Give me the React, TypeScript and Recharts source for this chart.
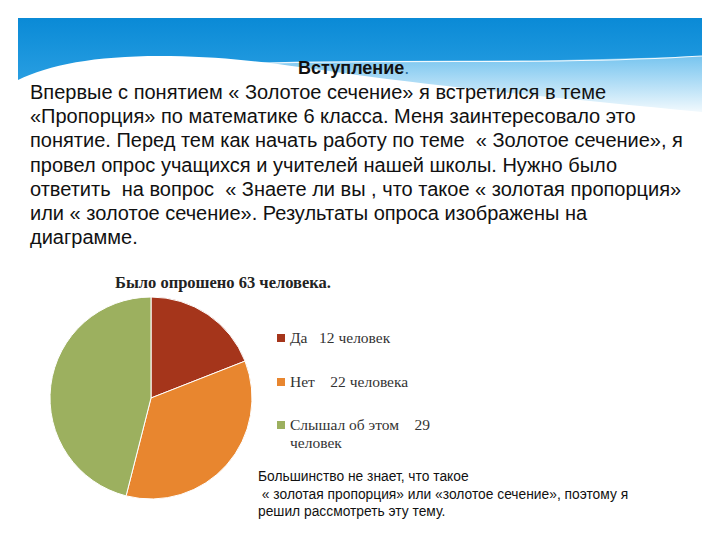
import React from 'react';
import { PieChart, Pie, Cell, Legend } from 'recharts';

// survey: "Знаете ли вы, что такое золотое сечение?"
const answers = ['Да', 'Нет', 'Слышал об этом'];
const counts = [12, 22, 29];
const units = ['человек', 'человека', 'человек'];
const gaps = ['   ', '    ', '    '];
const colors = ['#A5351B', '#E8862F', '#9CB05F'];

const introLines = [
  'Впервые с понятием « Золотое сечение» я встретился в теме',
  '«Пропорция» по математике 6 класса. Меня заинтересовало это',
  'понятие. Перед тем как начать работу по теме  « Золотое сечение», я',
  'провел опрос учащихся и учителей нашей школы. Нужно было',
  'ответить  на вопрос  « Знаете ли вы , что такое « золотая пропорция»',
  'или « золотое сечение». Результаты опроса изображены на',
  'диаграмме.',
];

const data = answers.map((name, i) => ({ name, value: counts[i] }));

const sans = "'Liberation Sans', Arial, sans-serif";
const serif = "'Liberation Serif', 'DejaVu Serif', serif";

function SurveyLegend(props: any) {
  const payload = props.payload || [];
  return (
    <div style={{ fontFamily: serif, fontSize: 15.5, color: '#333' }}>
      {payload.map((entry: any, i: number) => (
        <div
          key={i}
          style={{ display: 'flex', alignItems: 'flex-start', height: 43.5 }}
        >
          <span
            style={{
              display: 'inline-block',
              width: 8,
              height: 8,
              background: colors[i],
              marginTop: 5,
              marginRight: 5,
              flexShrink: 0,
            }}
          />
          <span style={{ whiteSpace: 'pre-wrap', width: 150, lineHeight: '17.5px' }}>
            {`${entry.value}${gaps[i]}${counts[i]} ${units[i]}`}
          </span>
        </div>
      ))}
    </div>
  );
}

function Header() {
  return (
    <svg
      width={720}
      height={140}
      style={{ position: 'absolute', left: 0, top: 0 }}
    >
      <defs>
        <linearGradient id="sky" x1="0" y1="0" x2="0" y2="1">
          <stop offset="0%" stopColor="#0A8AD6" />
          <stop offset="100%" stopColor="#3AAAE8" />
        </linearGradient>
        <linearGradient id="fade" x1="0" y1="0" x2="0" y2="1">
          <stop offset="0%" stopColor="#7CC7F0" stopOpacity={0.95} />
          <stop offset="100%" stopColor="#ffffff" stopOpacity={1} />
        </linearGradient>
      </defs>
      <rect x={18} y={18} width={684} height={100} fill="url(#sky)" />
      <path
        d="M180,66 C300,60 450,62 560,60 C620,59 670,57 702,56 L702,118 L180,118 Z"
        fill="url(#fade)"
      />
      <path
        d="M230,64 C350,60 470,62 560,61 C620,60 670,58 702,56"
        stroke="#ffffff"
        strokeWidth={1.2}
        fill="none"
        opacity={0.9}
      />
      <path
        d="M18,80 C50,64 100,55 170,56 C240,57 290,66 350,74 C450,88 580,100 702,112 L702,140 L18,140 Z"
        fill="#ffffff"
      />
    </svg>
  );
}

export default function App() {
  return (
    <div
      style={{
        position: 'absolute',
        left: 0,
        top: 0,
        width: 720,
        height: 540,
        overflow: 'hidden',
        background: '#fff',
      }}
    >
      <Header />
      <div
        style={{
          position: 'absolute',
          left: 298,
          top: 58,
          fontFamily: sans,
          fontWeight: 'bold',
          fontSize: 18,
          color: '#111',
        }}
      >
        Вступление<span style={{ fontWeight: 'normal', color: '#2a6f9e' }}>.</span>
      </div>
      <div
        style={{
          position: 'absolute',
          left: 30,
          top: 80,
          fontFamily: sans,
          fontSize: 20,
          lineHeight: '24.2px',
          color: '#111',
          whiteSpace: 'pre',
        }}
      >
        {introLines.map((l, i) => (
          <div key={i}>{l}</div>
        ))}
      </div>

      <div
        style={{
          position: 'absolute',
          left: 115,
          top: 273,
          fontFamily: serif,
          fontWeight: 'bold',
          fontSize: 16.5,
          color: '#222',
        }}
      >
        Было опрошено 63 человека.
      </div>

      <div style={{ position: 'absolute', left: 0, top: 0 }}>
        <PieChart width={720} height={540}>
          <Pie
            data={data}
            dataKey="value"
            nameKey="name"
            cx={146}
            cy={393}
            outerRadius={101}
            startAngle={90}
            endAngle={-270}
            stroke="#ffffff"
            strokeWidth={1}
            legendType="square"
            isAnimationActive={false}
          >
            {data.map((d, i) => (
              <Cell key={d.name} fill={colors[i]} />
            ))}
          </Pie>
          <Legend
            layout="vertical"
            content={SurveyLegend}
            wrapperStyle={{ position: 'absolute', left: 277, top: 329, width: 180 }}
          />
        </PieChart>
      </div>

      <div
        style={{
          position: 'absolute',
          left: 258,
          top: 468,
          fontFamily: sans,
          fontSize: 13.8,
          lineHeight: '17.5px',
          color: '#111',
          whiteSpace: 'pre',
        }}
      >
        <div>Большинство не знает, что такое</div>
        <div> « золотая пропорция» или «золотое сечение», поэтому я</div>
        <div>решил рассмотреть эту тему.</div>
      </div>
    </div>
  );
}
